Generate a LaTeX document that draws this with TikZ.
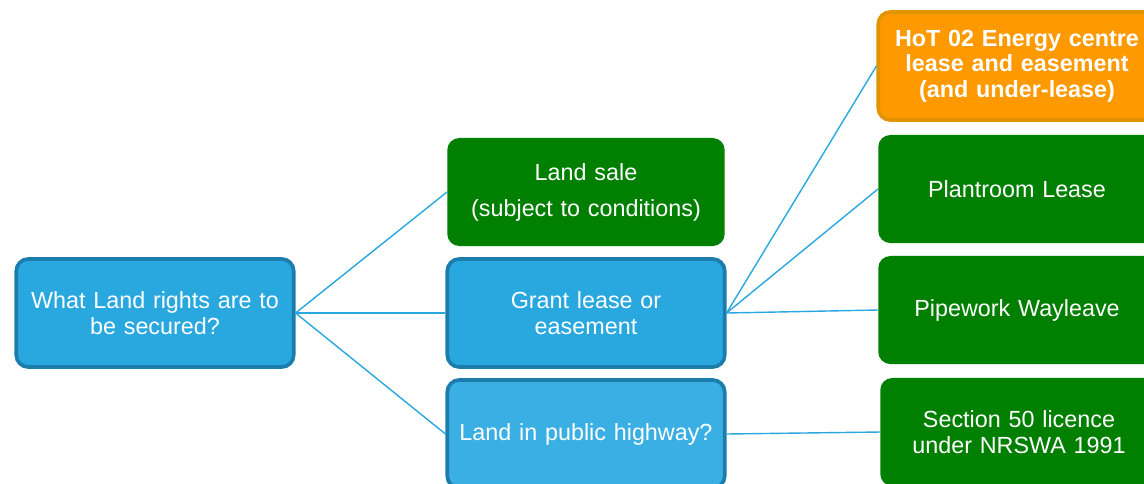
\documentclass[tikz,border=0pt]{standalone}
\usepackage{fontspec}
\setmainfont{Liberation Sans}
\usetikzlibrary{positioning}
\definecolor{qblue}{HTML}{29A8E0}
\definecolor{hblue}{HTML}{3AAFE3}
\definecolor{qedge}{HTML}{1C7DAD}
\definecolor{lgreen}{HTML}{007F00}
\definecolor{hotfill}{HTML}{FF9900}
\definecolor{hotedge}{HTML}{E29400}
\definecolor{wire}{HTML}{29A8E0}

\begin{document}
\begin{tikzpicture}[x=0.025cm, y=-0.025cm,
    box/.style={rectangle, rounded corners=0.3cm, minimum width=6.85cm, minimum height=2.7cm,
        text width=6.7cm, align=center, text=white, font=\fontsize{16.6}{18.6}\selectfont},
    ask/.style={box, fill=qblue, draw=qedge, line width=2.6pt},
    answer/.style={box, fill=lgreen},
    hot/.style={box, fill=hotfill, draw=hotedge, line width=2.6pt, font=\fontsize{16.6}{18}\selectfont\bfseries},
    link/.style={draw=wire, line width=1pt}]
    \useasboundingbox (0,0) rectangle (1144,483);

    \node[ask] (Q) at (155,313) {What Land rights are to\\be secured?};

    \node[answer, font=\fontsize{16.6}{25.6}\selectfont] (Sale) at (586,192) {Land sale\\(subject to conditions)};
    \node[ask] (Grant) at (586,313) {Grant lease or\\easement};
    \node[ask, fill=hblue] (Highway) at (586,434) {Land in public highway?};

    \node[hot] (HoT) at (1017,66) {HoT 02 Energy centre\\lease and easement\\(and under-lease)};
    \node[answer] (Plant) at (1017,189) {Plantroom Lease};
    \node[answer] (Pipe) at (1017,310) {Pipework Wayleave};
    \node[answer] (Sec50) at (1019,432) {Section 50 licence\\under NRSWA 1991};

    \draw[link] (Q.east) -- (Sale.west);
    \draw[link] (Q.east) -- (Grant.west);
    \draw[link] (Q.east) -- (Highway.west);
    \draw[link] (Grant.east) -- (HoT.west);
    \draw[link] (Grant.east) -- (Plant.west);
    \draw[link] (Grant.east) -- (Pipe.west);
    \draw[link] (Highway.east) -- (Sec50.west);
\end{tikzpicture}
\end{document}
